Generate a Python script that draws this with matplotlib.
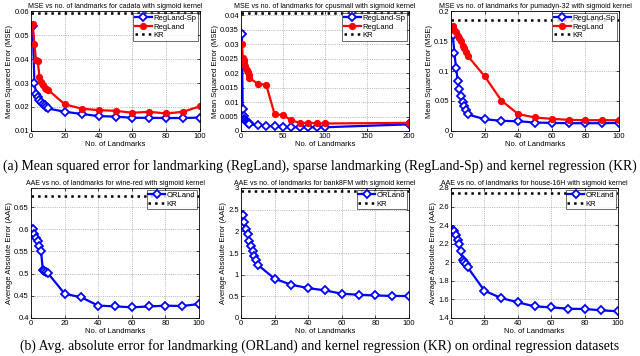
import numpy as np
import matplotlib.pyplot as plt

# landmark counts
n_land = [1, 2, 3, 4, 5, 6, 7, 8, 9, 10, 20, 30, 40, 50, 60, 70, 80, 90, 100]
n_land_cpu = [1, 2, 3, 4, 5, 6, 7, 8, 9, 10, 20, 30, 40, 50, 60, 70, 80, 90, 100, 200]

# (a) MSE
cadata_sp = [0.0538, 0.0300, 0.0256, 0.0242, 0.0228, 0.0221, 0.0214, 0.0207, 0.0201, 0.0194,
             0.0180, 0.0171, 0.0162, 0.0160, 0.0155, 0.0155, 0.0154, 0.0154, 0.0156]
cadata_rl = [0.0545, 0.0462, 0.0396, 0.0390, 0.0327, 0.0304, 0.0290, 0.0280, 0.0276, 0.0272,
             0.0211, 0.0193, 0.0187, 0.0184, 0.0176, 0.0180, 0.0173, 0.0180, 0.0203]
cadata_kr = 0.059

cpu_sp = [0.0336, 0.0075, 0.0051, 0.0043, 0.0037, 0.0035, 0.0032, 0.0029, 0.0026, 0.0023,
          0.0020, 0.0018, 0.0016, 0.0014, 0.0013, 0.0013, 0.0013, 0.0013, 0.0013, 0.0023]
cpu_rl = [0.0301, 0.0254, 0.0246, 0.0237, 0.0225, 0.0215, 0.0210, 0.0204, 0.0195, 0.0184,
          0.0163, 0.0160, 0.0058, 0.0055, 0.0037, 0.0028, 0.0028, 0.0027, 0.0026, 0.0028]
cpu_kr = 0.0407

puma_sp = [0.1606, 0.1307, 0.1054, 0.0840, 0.0700, 0.0575, 0.0490, 0.0417, 0.0350, 0.0276,
           0.0197, 0.0169, 0.0163, 0.0141, 0.0135, 0.0130, 0.0130, 0.0130, 0.0135]
puma_rl = [0.1758, 0.1684, 0.1645, 0.1590, 0.1544, 0.1504, 0.1420, 0.1375, 0.1320, 0.1250,
           0.0913, 0.0507, 0.0282, 0.0225, 0.0203, 0.0186, 0.0180, 0.0180, 0.0180]
puma_kr = 0.1854

# (b) AAE
wine_or = [0.6005, 0.589, 0.580, 0.5727, 0.563, 0.551, 0.5089, 0.505, 0.503, 0.5013,
           0.4548, 0.4465, 0.4278, 0.4263, 0.424, 0.426, 0.4278, 0.427, 0.4315]
wine_kr = 0.674

bank_or = [2.378, 2.21, 2.056, 1.94, 1.787, 1.67, 1.557, 1.44, 1.33, 1.228,
           0.906, 0.767, 0.69, 0.637, 0.56, 0.537, 0.52, 0.51, 0.506]
bank_kr = 2.93

house_or = [2.351, 2.333, 2.297, 2.244, 2.197, 2.118, 2.021, 2.003, 1.981, 1.946,
            1.694, 1.615, 1.569, 1.525, 1.515, 1.500, 1.497, 1.483, 1.472]
house_kr = 2.746

plt.rcParams['font.family'] = ['Liberation Sans', 'DejaVu Sans']

fig = plt.figure(figsize=(6.4, 3.56), dpi=100)
W, H = 640.0, 356.0


def make_ax(left, top, right, bottom):
    return fig.add_axes([left / W, 1 - bottom / H, (right - left) / W, (bottom - top) / H])


def style(ax, title, ylabel, xlim, ylim, xticks, yticks, ylabels):
    ax.set_xlim(xlim)
    ax.set_ylim(ylim)
    ax.set_xticks(xticks)
    ax.set_yticks(yticks)
    ax.set_yticklabels(ylabels)
    ax.tick_params(direction='in', labelsize=5.5, length=2, width=0.5, pad=1.5,
                   top=True, right=True)
    ax.grid(True, linestyle=':', color='#888888', linewidth=0.5)
    ax.set_title(title, fontsize=5, pad=2.5)
    ax.set_xlabel('No. of Landmarks', fontsize=5.5, labelpad=0.5)
    ax.set_ylabel(ylabel, fontsize=5.5, labelpad=1)
    for s in ax.spines.values():
        s.set_linewidth(0.6)


def legend(ax, labels):
    leg = ax.legend(labels, loc='upper right', fontsize=5.5, frameon=True, fancybox=False,
                    borderpad=0.2, labelspacing=0.15, handlelength=2.2, handletextpad=0.2,
                    borderaxespad=0.3)
    leg.get_frame().set_edgecolor('black')
    leg.get_frame().set_linewidth(0.5)


blue_kw = dict(color='#0000ff', marker='D', markersize=4.2, markerfacecolor='white',
               markeredgewidth=1.3, linewidth=1.6)
red_kw = dict(color='#ff0000', marker='o', markersize=4.2, markeredgewidth=1.0, linewidth=1.6)
kr_kw = dict(color='black', linestyle=':', linewidth=1.8)

mse_label = 'Mean Squared Error (MSE)'
aae_label = 'Average Absolute Error (AAE)'

# top row
ax = make_ax(31, 11, 200, 131)
ax.plot(n_land, cadata_sp, **blue_kw)
ax.plot(n_land, cadata_rl, **red_kw)
ax.plot([0, 100], [cadata_kr, cadata_kr], **kr_kw)
style(ax, 'MSE vs no. of landmarks for cadata with sigmoid kernel', mse_label, (0, 100),
      (0.01, 0.06), [0, 20, 40, 60, 80, 100], [0.01, 0.02, 0.03, 0.04, 0.05, 0.06],
      ['0.01', '0.02', '0.03', '0.04', '0.05', '0.06'])
legend(ax, ['RegLand-Sp', 'RegLand', 'KR'])

ax = make_ax(241, 11, 409, 131)
ax.plot(n_land_cpu, cpu_sp, **blue_kw)
ax.plot(n_land_cpu, cpu_rl, **red_kw)
ax.plot([0, 200], [cpu_kr, cpu_kr], **kr_kw)
style(ax, 'MSE vs no. of landmarks for cpusmall with sigmoid kernel', mse_label, (0, 200),
      (0, 0.0415), [0, 50, 100, 150, 200],
      [0, 0.005, 0.01, 0.015, 0.02, 0.025, 0.03, 0.035, 0.04],
      ['0', '0.005', '0.01', '0.015', '0.02', '0.025', '0.03', '0.035', '0.04'])
legend(ax, ['RegLand-Sp', 'RegLand', 'KR'])

ax = make_ax(451, 11, 619, 131)
ax.plot(n_land, puma_sp, **blue_kw)
ax.plot(n_land, puma_rl, **red_kw)
ax.plot([0, 100], [puma_kr, puma_kr], **kr_kw)
style(ax, 'MSE vs no. of landmarks for pumadyn-32 with sigmoid kernel', mse_label, (0, 100),
      (0, 0.2), [0, 20, 40, 60, 80, 100], [0, 0.05, 0.1, 0.15, 0.2],
      ['0', '0.05', '0.1', '0.15', '0.2'])
legend(ax, ['RegLand-Sp', 'RegLand', 'KR'])

# bottom row
ax = make_ax(31, 188, 199, 318)
ax.plot(n_land, wine_or, **blue_kw)
ax.plot([0, 100], [wine_kr, wine_kr], **kr_kw)
style(ax, 'AAE vs no. of landmarks for wine-red with sigmoid kernel', aae_label, (0, 100),
      (0.4, 0.693), [0, 20, 40, 60, 80, 100], [0.4, 0.45, 0.5, 0.55, 0.6, 0.65],
      ['0.4', '0.45', '0.5', '0.55', '0.6', '0.65'])
legend(ax, ['ORLand', 'KR'])

ax = make_ax(241, 188, 409, 318)
ax.plot(n_land, bank_or, **blue_kw)
ax.plot([0, 100], [bank_kr, bank_kr], **kr_kw)
style(ax, 'AAE vs no. of landmarks for bank8FM with sigmoid kernel', aae_label, (0, 100),
      (0, 3), [0, 20, 40, 60, 80, 100], [0, 0.5, 1, 1.5, 2, 2.5, 3],
      ['0', '0.5', '1', '1.5', '2', '2.5', '3'])
legend(ax, ['ORLand', 'KR'])

ax = make_ax(451, 188, 618, 318)
ax.plot(n_land, house_or, **blue_kw)
ax.plot([0, 100], [house_kr, house_kr], **kr_kw)
style(ax, 'AAE vs no. of landmarks for house-16H with sigmoid kernel', aae_label, (0, 100),
      (1.4, 2.8), [0, 20, 40, 60, 80, 100], [1.4, 1.6, 1.8, 2.0, 2.2, 2.4, 2.6, 2.8],
      ['1.4', '1.6', '1.8', '2', '2.2', '2.4', '2.6', '2.8'])
legend(ax, ['ORLand', 'KR'])

cap_font = dict(family=['Liberation Serif', 'DejaVu Serif'], fontsize=9.9, ha='center', va='center')
fig.text(0.5, 1 - 166 / H,
         '(a) Mean squared error for landmarking (RegLand), sparse landmarking (RegLand-Sp) and kernel regression (KR)',
         **cap_font)
fig.text(0.5, 1 - 346 / H,
         '(b) Avg. absolute error for landmarking (ORLand) and kernel regression (KR) on ordinal regression datasets',
         **cap_font)

fig.savefig('out.png', dpi=100)
